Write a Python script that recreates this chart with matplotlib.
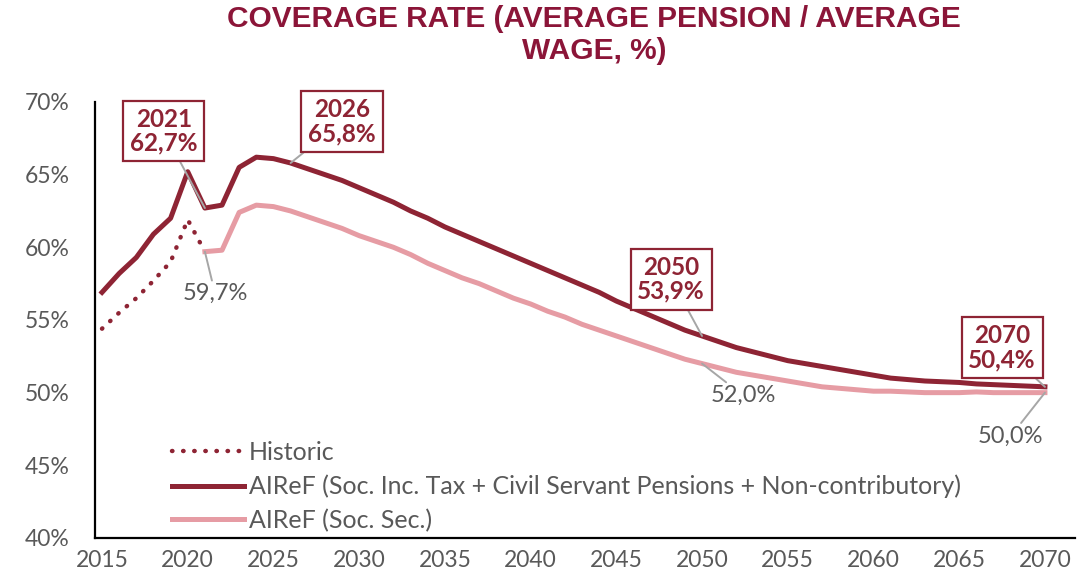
import matplotlib.pyplot as plt
import numpy as np

dark = '#8e2434'
light = '#e69ca4'
title_col = '#8b1538'
grey = '#595959'

years = list(range(2015, 2071))
total = [56.9, 58.2, 59.3, 60.9, 62.0, 65.2, 62.7, 62.9, 65.5, 66.2,
         66.1, 65.8, 65.4, 65.0, 64.6, 64.1, 63.6, 63.1, 62.5, 62.0,
         61.4, 60.9, 60.4, 59.9, 59.4, 58.9, 58.4, 57.9, 57.4, 56.9,
         56.3, 55.8, 55.3, 54.8, 54.3, 53.9, 53.5, 53.1, 52.8, 52.5,
         52.2, 52.0, 51.8, 51.6, 51.4, 51.2, 51.0, 50.9, 50.8, 50.75,
         50.7, 50.6, 50.55, 50.5, 50.45, 50.4]
socsec_years = list(range(2021, 2071))
socsec = [59.7, 59.8, 62.4, 62.9, 62.8, 62.5, 62.1, 61.7, 61.3, 60.8,
          60.4, 60.0, 59.5, 58.9, 58.4, 57.9, 57.5, 57.0, 56.5, 56.1,
          55.6, 55.2, 54.7, 54.3, 53.9, 53.5, 53.1, 52.7, 52.3, 52.0,
          51.7, 51.4, 51.2, 51.0, 50.8, 50.6, 50.4, 50.3, 50.2, 50.1,
          50.1, 50.05, 50.0, 50.0, 50.0, 50.05, 50.0, 50.0, 50.0, 50.0]
hist_years = list(range(2015, 2022))
historic = [54.4, 55.5, 56.5, 57.7, 59.0, 61.9, 59.7]

labels = ['Historic',
          'AIReF (Soc. Inc. Tax + Civil Servant Pensions + Non-contributory)',
          'AIReF (Soc. Sec.)']

fig = plt.figure(figsize=(10.88, 5.76), dpi=100)
ax = fig.add_axes([0.0873, 0.066, 0.9007, 0.757])

ax.plot(hist_years, historic, color=dark, lw=3.2, linestyle=(0, (0.1, 2.4)),
        dash_capstyle='round', label=labels[0], zorder=3)
ax.plot(years, total, color=dark, lw=3.6, label=labels[1], zorder=4,
        solid_joinstyle='round')
ax.plot(socsec_years, socsec, color=light, lw=3.6, label=labels[2], zorder=3,
        solid_joinstyle='round')

ax.set_xlim(2014.59, 2071.75)
ax.set_ylim(40, 70)
ax.set_xticks(range(2015, 2071, 5))
ax.set_yticks(range(40, 71, 5))
ax.set_yticklabels([f'{v}%' for v in range(40, 71, 5)])
for s in ('top', 'right'):
    ax.spines[s].set_visible(False)
for s in ('left', 'bottom'):
    ax.spines[s].set_linewidth(1.6)
ax.tick_params(length=0, labelsize=16.5, labelcolor=grey)
ax.tick_params(axis='x', pad=9)
ax.tick_params(axis='y', pad=18)
for t in ax.get_xticklabels() + ax.get_yticklabels():
    t.set_family('Lato')

leg = ax.legend(loc='lower left', bbox_to_anchor=(0.056, -0.038), frameon=False,
                handlelength=2.85, handletextpad=0.2, labelspacing=0.42,
                prop={'family': 'Lato', 'size': 18})
for t in leg.get_texts():
    t.set_color(grey)

fig.text(0.546, 0.992, 'COVERAGE RATE (AVERAGE PENSION / AVERAGE\nWAGE, %)',
         ha='center', va='top', fontsize=21.5, fontweight='bold',
         color=title_col, family='Liberation Sans', linespacing=1.2)

box = dict(boxstyle='square,pad=0.28', fc='white', ec=dark, lw=1.6)
lead = dict(arrowstyle='-', color='#a6a6a6', lw=1.4, shrinkA=0, shrinkB=0)

def callout(year, val, tx, ty, text):
    ax.annotate(text, xy=(year, val), xytext=(tx, ty), ha='center', va='center',
                fontsize=17.5, fontweight='bold', color=dark, family='Lato',
                bbox=box, arrowprops=lead, zorder=6, linespacing=1.05)

def plain(year, val, tx, ty, text):
    ax.annotate(text, xy=(year, val), xytext=(tx, ty), ha='center', va='center',
                fontsize=17, color=grey, family='Lato', arrowprops=lead, zorder=6)

callout(2021, total[6], 2018.6, 68.0, '2021\n62,7%')
callout(2026, total[11], 2029.0, 68.65, '2026\n65,8%')
callout(2050, total[35], 2048.2, 57.8, '2050\n53,9%')
callout(2070, total[55], 2067.5, 53.1, '2070\n50,4%')
plain(2021, socsec[0], 2021.6, 56.8, '59,7%')
plain(2050, socsec[29], 2052.4, 49.8, '52,0%')
plain(2070, socsec[49], 2068.0, 47.0, '50,0%')

fig.savefig('out.png', dpi=100)
